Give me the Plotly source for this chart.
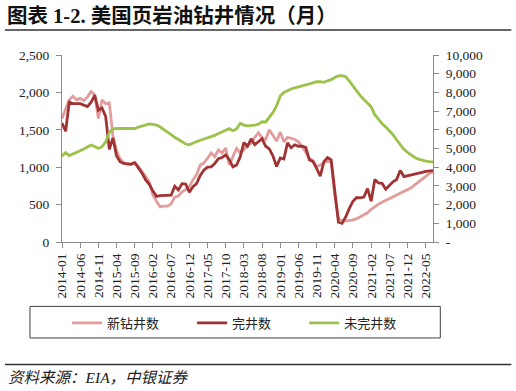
import plotly.graph_objects as go

# ---- data ----
months = [f"{y}-{m:02d}" for y in range(2014, 2023) for m in range(1, 13)][:103]

new_drilled = [1650, 1790, 1900, 1950, 1900, 1920, 1890, 1940, 2010, 1970,
               1650, 1900, 1850, 1860, 1420, 1220, 1110, 1060, 1040, 1045,
               1060, 1010, 950, 875, 800, 630, 540, 470, 480, 480,
               510, 600, 615, 670, 700, 740, 830, 900, 1030, 1055,
               1120, 1190, 1140, 1230, 1190, 1255, 1030, 1140, 1250, 1190,
               1230, 1300, 1320, 1400, 1460, 1395, 1370, 1500, 1420, 1350,
               1470, 1340, 1400, 1390, 1370, 1340, 1280, 1200, 1120, 1090,
               1010, 1030, 1055, 1090, 1070, 620, 310, 285, 280, 285,
               295, 310, 335, 360, 390, 435, 475, 505, 530, 555,
               580, 600, 620, 645, 670, 695, 725, 765, 805, 845,
               885, 915, 935]

completed = [1590, 1480, 1870, 1850, 1850, 1850, 1830, 1810, 1870, 1960,
             1760, 1790, 1680, 1240, 1390, 1150, 1070, 1050, 1045, 1040,
             1060, 990, 920, 830, 770, 680, 610, 620, 625, 630,
             625, 745, 695, 780, 775, 665, 740, 780, 890, 960,
             1000, 1005, 1050, 1115, 1130, 1165, 1100, 1005, 1030, 1140,
             1330, 1280, 1380, 1300, 1335, 1380, 1280, 1245, 1150, 1010,
             1125, 1110, 1325, 1260, 1300, 1280, 1280, 1265, 1100, 1075,
             985, 880, 1075, 1130, 1100, 650, 265, 250, 335, 450,
             545, 595, 590, 600, 715, 545, 835, 790, 785, 705,
             760, 805, 835, 955, 875, 885, 890, 910, 920, 930,
             945, 955, 955]

uncompleted = [4600, 4780, 4620, 4720, 4790, 4880, 4970, 5060, 5180, 5110,
               5000, 5100, 5350, 5850, 6050, 6080, 6080, 6070, 6040, 6040,
               6070, 6140, 6210, 6280, 6320, 6290, 6250, 6150, 6000, 5870,
               5740, 5600, 5470, 5340, 5240, 5200, 5300, 5370, 5440, 5500,
               5580, 5650, 5700, 5800, 5900, 5980, 6060, 5950, 6050, 6350,
               6250, 6210, 6210, 6250, 6300, 6430, 6420, 6650, 6930, 7290,
               7800, 8000, 8100, 8180, 8240, 8280, 8360, 8400, 8450, 8530,
               8570, 8570, 8540, 8620, 8680, 8800, 8880, 8900, 8840, 8600,
               8335, 8066, 7830, 7620, 7400, 7230, 6810, 6540, 6330, 6150,
               5970, 5735, 5466, 5200, 4960, 4790, 4630, 4520, 4430, 4360,
               4320, 4300, 4290]

series_names = ["新钻井数", "完井数", "未完井数"]
left_ticks = [0, 500, 1000, 1500, 2000, 2500]
right_ticks = [0, 1000, 2000, 3000, 4000, 5000, 6000, 7000, 8000, 9000, 10000]
right_ticktext = ["-", "1,000", "2,000", "3,000", "4,000", "5,000", "6,000",
                  "7,000", "8,000", "9,000", "10,000"]
x_ticks = months[0:101:5]

# ---- figure ----
W, H = 516, 391
L, R, T, B = 62, 432.7, 55, 241.7
pw, ph = R - L, B - T

def px(x):
    return (x - L) / pw

def py(y):
    return (B - y) / ph

serif = "Liberation Serif, Noto Sans CJK SC, serif"
cjk = "Noto Sans CJK SC, sans-serif"

fig = go.Figure()
fig.add_trace(go.Scatter(x=months, y=new_drilled, name=series_names[0], mode="lines",
                         line=dict(color="#E39C9C", width=2.8), legend="legend"))
fig.add_trace(go.Scatter(x=months, y=completed, name=series_names[1], mode="lines",
                         line=dict(color="#A03333", width=2.8), legend="legend2"))
fig.add_trace(go.Scatter(x=months, y=uncompleted, name=series_names[2], mode="lines",
                         line=dict(color="#9BC34B", width=2.8), yaxis="y2", legend="legend3"))

axis_col = "#8a8a8a"
tick_font = dict(family=serif, size=13.5, color="#222222")

leg_common = dict(orientation="h", bgcolor="rgba(0,0,0,0)", borderwidth=0,
                  font=dict(family=cjk, size=13, color="#222222"),
                  xanchor="left", yanchor="middle", xref="paper", yref="paper")

fig.update_layout(
    width=W, height=H,
    margin=dict(l=L, r=W - R, t=T, b=H - B, pad=0),
    paper_bgcolor="white", plot_bgcolor="white",
    title=dict(text="<b>图表 1-2. 美国页岩油钻井情况（月）</b>",
               font=dict(family=serif, size=20.5, color="#111111"),
               x=7 / W, xref="container", xanchor="left",
               y=1 - 16 / H, yref="container", yanchor="middle"),
    xaxis=dict(type="category", range=[0, 102], showline=True, linecolor=axis_col,
               linewidth=1, ticks="outside", ticklen=5, tickcolor=axis_col,
               tickmode="array", tickvals=x_ticks, ticktext=x_ticks,
               tickangle=-90, tickfont=tick_font, showgrid=False, zeroline=False),
    yaxis=dict(range=[0, 2500], tickvals=left_ticks, tickformat=",", showline=True,
               linecolor=axis_col, linewidth=1, ticks="outside", ticklen=5,
               tickcolor=axis_col, tickfont=tick_font, showgrid=False, zeroline=False,
               ticklabelstandoff=4),
    yaxis2=dict(range=[0, 10000], overlaying="y", side="right", tickvals=right_ticks,
                ticktext=right_ticktext, showline=True, linecolor=axis_col, linewidth=1,
                ticks="outside", ticklen=5, tickcolor=axis_col, tickfont=tick_font,
                showgrid=False, zeroline=False, ticklabelstandoff=4),
    legend=dict(x=px(67), y=py(322.5), **leg_common),
    legend2=dict(x=px(192), y=py(322.5), **leg_common),
    legend3=dict(x=px(304), y=py(322.5), **leg_common),
    showlegend=True,
    shapes=[
        dict(type="line", xref="paper", yref="paper", x0=px(5), x1=px(511),
             y0=py(30), y1=py(30), line=dict(color="#333333", width=1.6)),
        dict(type="rect", xref="paper", yref="paper", x0=px(30), x1=px(440),
             y0=py(337.5), y1=py(306), line=dict(color="#404040", width=1)),
        dict(type="line", xref="paper", yref="paper", x0=px(5), x1=px(511),
             y0=py(364), y1=py(364), line=dict(color="#333333", width=1.4)),
    ],
    annotations=[
        dict(text="<i>资料来源：EIA，中银证券</i>", xref="paper", yref="paper",
             x=px(6), y=py(377), xanchor="left", yanchor="middle", showarrow=False,
             font=dict(family=serif, size=15.5, color="#222222")),
    ],
    hovermode=False,
)

fig.write_html("out.html",
               config={"displayModeBar": False, "staticPlot": True},
               post_script="document.body.style.margin='0';document.body.style.overflow='hidden';")
